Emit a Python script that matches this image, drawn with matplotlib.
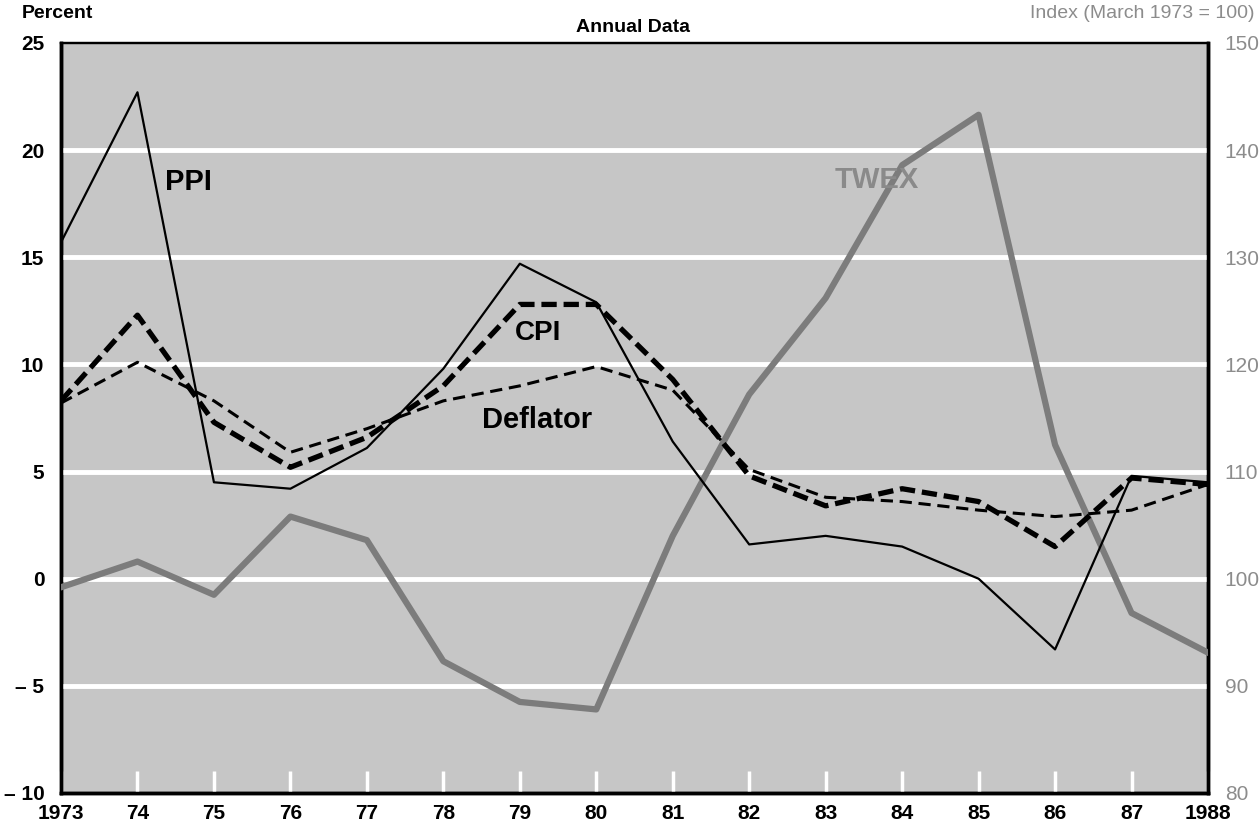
import matplotlib
matplotlib.use("Agg")
import matplotlib.pyplot as plt

years = list(range(1973, 1989))
xlabels = ["1973", "74", "75", "76", "77", "78", "79", "80", "81", "82",
           "83", "84", "85", "86", "87", "1988"]

ppi = [15.7, 22.7, 4.5, 4.2, 6.1, 9.8, 14.7, 12.9, 6.4, 1.6,
       2.0, 1.5, 0.0, -3.3, 4.8, 4.5]
cpi = [8.3, 12.3, 7.3, 5.2, 6.6, 9.0, 12.8, 12.8, 9.3, 4.8,
       3.4, 4.2, 3.6, 1.5, 4.7, 4.4]
deflator = [8.2, 10.1, 8.3, 5.9, 7.0, 8.3, 9.0, 9.9, 8.8, 5.1,
            3.8, 3.6, 3.2, 2.9, 3.2, 4.4]
twex = [99.2, 101.6, 98.5, 105.8, 103.6, 92.3, 88.5, 87.8, 104.0, 117.2,
        126.2, 138.6, 143.3, 112.5, 96.8, 93.1]

left_ticks = [25, 20, 15, 10, 5, 0, -5, -10]
left_ticklabels = ["25", "20", "15", "10", "5", "0", "\u2013 5", "\u2013 10"]
right_ticks = [150, 140, 130, 120, 110, 100, 90, 80]

plt.rcParams['font.family'] = ['Liberation Sans', 'DejaVu Sans']

BG = '#c6c6c6'
GRAYTXT = '#8c8c8c'

fig = plt.figure(figsize=(12.59, 8.25), dpi=100)
ax = fig.add_axes([61/1259, 1-793/825, (1208-61)/1259, (793-43)/825])
ax2 = ax.twinx()
ax2.set_zorder(0)
ax.set_zorder(1)
ax2.patch.set_visible(True)
ax2.patch.set_facecolor(BG)
ax.patch.set_visible(False)

ax.set_xlim(1973, 1988)
ax.set_ylim(-10, 25)
ax2.set_ylim(80, 150)

for v in left_ticks[1:-1]:
    ax.axhline(v, color='white', lw=3.5, zorder=1)

# TWEX on the right-hand index scale (index = 100 + 2 * percent on left scale)
twex_on_left = [(t - 100) / 2 for t in twex]
ax.plot(years, twex_on_left, color='#7c7c7c', lw=4.5, solid_joinstyle='round', zorder=3)
ax.plot(years, ppi, color='black', lw=1.6, zorder=4)
ax.plot(years, deflator, color='black', lw=2.2, dashes=(4, 2.2), zorder=4)
ax.plot(years, cpi, color='black', lw=3.8, dashes=(2.9, 1.3), zorder=5)

ax.set_xticks(years)
ax.set_xticklabels(xlabels, fontsize=15, fontweight='bold')
ax.tick_params(axis='x', direction='in', length=16, width=2.5, color='white', pad=8)
ax.set_yticks(left_ticks)
ax.set_yticklabels(left_ticklabels, fontsize=15, fontweight='bold')
ax.tick_params(axis='y', length=0, pad=12)

ax2.set_yticks(right_ticks)
ax2.set_yticklabels([str(t) for t in right_ticks], fontsize=15, color=GRAYTXT)
ax2.tick_params(axis='y', length=0, pad=12)

for a in (ax, ax2):
    for side in ('left', 'bottom', 'right'):
        a.spines[side].set_linewidth(2.5)
    a.spines['top'].set_linewidth(1.6)

ax.text(1974.67, 18.5, "PPI", fontsize=21, fontweight='bold', ha='center', va='center', zorder=6)
ax.text(1979.24, 11.45, "CPI", fontsize=20, fontweight='bold', ha='center', va='center', zorder=6)
ax.text(1979.22, 7.4, "Deflator", fontsize=21, fontweight='bold', ha='center', va='center', zorder=6)
ax.text(1983.67, 18.6, "TWEX", fontsize=21, fontweight='bold', color='#8a8a8a',
        ha='center', va='center', zorder=6)

fig.text(22/1259, 1-13/825, "Percent", fontsize=14, fontweight='bold', ha='left', va='center')
fig.text(633/1259, 1-28/825, "Annual Data", fontsize=14, fontweight='bold', ha='center', va='center')
fig.text(1255/1259, 1-13/825, "Index (March 1973 = 100)", fontsize=14, color=GRAYTXT,
         ha='right', va='center')

fig.savefig("out.png", dpi=100)
